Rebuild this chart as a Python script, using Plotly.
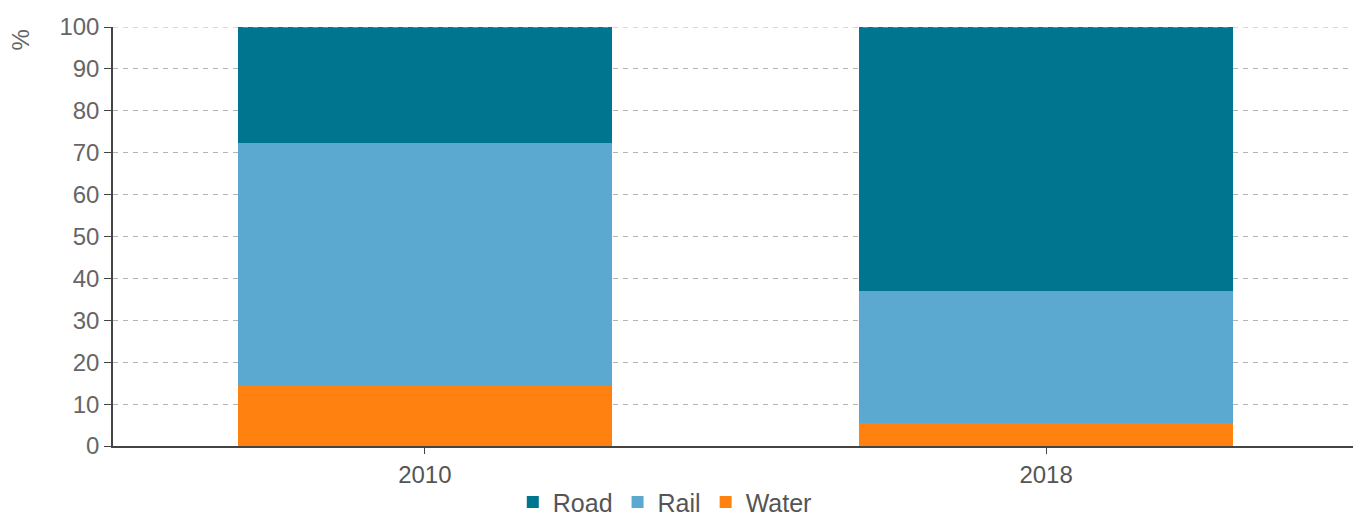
import plotly.graph_objects as go

years = ["2010", "2018"]
water = [14.3, 5.5]
rail = [57.9, 31.6]
road = [27.8, 62.9]

colors = {"Road": "#00758f", "Rail": "#5ba8d0", "Water": "#ff8210"}
font = "Liberation Sans, Arial, sans-serif"

fig = go.Figure()
# stacked from the bottom: water, rail, road
for name, vals in [("Water", water), ("Rail", rail), ("Road", road)]:
    fig.add_trace(go.Bar(x=years, y=vals, name=name, marker_color=colors[name],
                         marker_line_width=0, width=0.602))

fig.update_layout(
    barmode="stack",
    width=1361, height=516,
    margin=dict(l=105, r=16, t=19, b=78, autoexpand=False),
    plot_bgcolor="white", paper_bgcolor="white",
    font=dict(family=font, size=24, color="#666"),
    legend=dict(orientation="h", x=0.445, xanchor="center", y=-0.134, yanchor="middle",
                traceorder="reversed", font=dict(size=25, color="#555"),
                itemwidth=30, tracegroupgap=0),
    xaxis=dict(type="category", range=[-0.502, 1.494], showgrid=False,
               showline=True, linecolor="#444", linewidth=1.5,
               ticks="outside", ticklen=6, tickcolor="#444", automargin=False,
               tickfont=dict(size=24, color="#555")),
    yaxis=dict(range=[0, 100], dtick=10, showgrid=True, gridcolor="#b4b4b4",
               griddash="5px,5px", gridwidth=1, showline=True, linecolor="#444",
               linewidth=1.5, ticks="outside", ticklen=7, tickcolor="#444",
               automargin=False, tickfont=dict(size=24, color="#666"),
               zeroline=False),
    annotations=[dict(text="%", xref="paper", yref="paper", x=-0.0742, y=1.0,
                      xanchor="center", yanchor="top", textangle=-90,
                      showarrow=False, font=dict(size=24, color="#666"))],
)

# gridline at the top of the range
fig.add_shape(type="line", xref="paper", yref="y", x0=0, x1=1, y0=100, y1=100,
              layer="above", line=dict(color="#b4b4b4", width=1, dash="5px,5px"))

# end ticks on the category axis
for xp in [0, 1]:
    fig.add_shape(type="line", xref="paper", yref="y", x0=xp, x1=xp,
                  ysizemode="pixel", yanchor=0, y0=0, y1=-9,
                  line=dict(color="#444", width=1.5))

fig.write_html("out.html")
